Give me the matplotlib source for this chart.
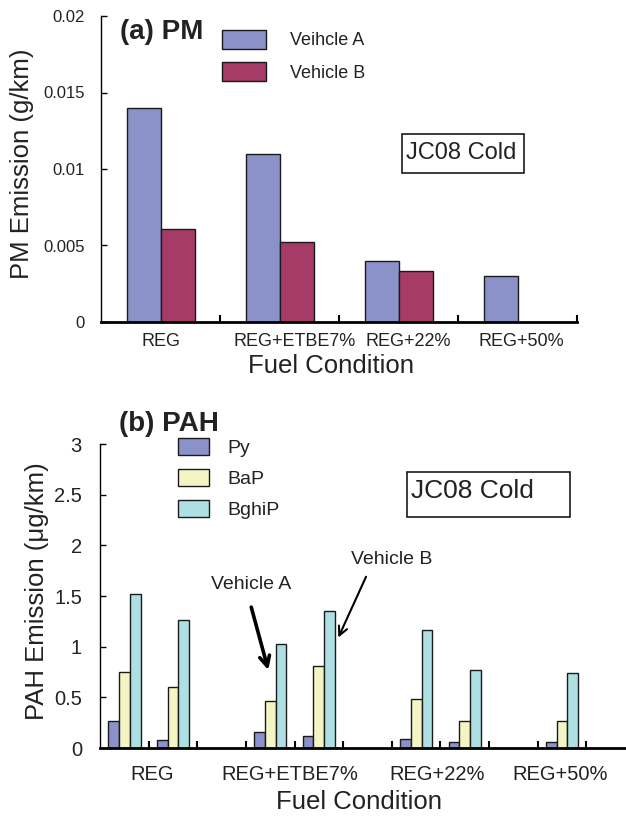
import numpy as np
import matplotlib
matplotlib.use("Agg")
import matplotlib.pyplot as plt
from matplotlib.patches import Rectangle
from matplotlib.ticker import FormatStrFormatter, FixedLocator
from matplotlib.transforms import ScaledTranslation

plt.rcParams["font.family"] = ["Liberation Sans", "DejaVu Sans"]

# ── data ─────────────────────────────────────────────────────────────────────
fuels = ["REG", "REG+ETBE7%", "REG+22%", "REG+50%"]

pm_vehicle_a = [0.014, 0.011, 0.004, 0.003]
pm_vehicle_b = [0.0061, 0.0052, 0.00335, np.nan]

py_a    = [0.27, 0.16, 0.09, 0.055]
py_b    = [0.08, 0.12, 0.055, np.nan]
bap_a   = [0.75, 0.46, 0.48, 0.27]
bap_b   = [0.60, 0.81, 0.27, np.nan]
bghip_a = [1.52, 1.03, 1.165, 0.74]
bghip_b = [1.26, 1.355, 0.77, np.nan]

C_A     = "#8B91C9"
C_B     = "#A63B68"
C_PY    = "#8B91C9"
C_BAP   = "#F4F5C4"
C_BGHIP = "#AEDFE3"
EDGE    = "#1a1a1a"
TXT     = "#222222"

W, H = 626, 819
fig = plt.figure(figsize=(W / 100, H / 100), dpi=100)


def fx(x, y):
    return x / W, 1 - y / H


def style_axis(ax, size, ypad):
    ax.spines["top"].set_visible(False)
    ax.spines["right"].set_visible(False)
    ax.spines["left"].set_linewidth(1.0)
    ax.spines["bottom"].set_linewidth(2.0)
    ax.yaxis.set_major_formatter(FormatStrFormatter("%g"))
    ax.tick_params(axis="y", direction="in", length=4, width=1, pad=ypad,
                   labelsize=size, labelcolor=TXT)
    ax.set_xticks([])
    ax.tick_params(axis="x", which="minor", direction="in", length=5, width=1.5)


def cat_labels(ax, xs, labels, size, shifts, drop):
    # category names under the axis, nudged sideways in pixels
    for xv, lab, dx in zip(xs, labels, shifts):
        tr = ax.get_xaxis_transform() + ScaledTranslation(dx / 100, -drop / 100,
                                                          fig.dpi_scale_trans)
        ax.text(xv, 0, lab, transform=tr, fontsize=size, color=TXT,
                ha="center", va="center")


def note_box(x0, y0, x1, y1, tx, ty, size):
    fig.patches.append(Rectangle(fx(x0, y1), (x1 - x0) / W, (y1 - y0) / H,
                                 transform=fig.transFigure, fill=False,
                                 edgecolor=EDGE, linewidth=1.2))
    fig.text(*fx(tx, ty), "JC08 Cold", fontsize=size, color=TXT,
             ha="left", va="center")


# ── (a) PM ───────────────────────────────────────────────────────────────────
ax1 = fig.add_axes([101 / W, 1 - 322 / H, 476 / W, 306 / H])
x = np.arange(len(fuels))
bw = 1 / 3.5
ax1.bar(x - bw / 2, pm_vehicle_a, width=bw, color=C_A, edgecolor=EDGE,
        linewidth=1, label="Veihcle A")
ax1.bar(x + bw / 2, pm_vehicle_b, width=bw, color=C_B, edgecolor=EDGE,
        linewidth=1, label="Vehicle B")
ax1.set_xlim(-0.5, 3.5)
ax1.set_ylim(0, 0.02)
ax1.set_yticks([0, 0.005, 0.01, 0.015, 0.02])
style_axis(ax1, 12, 11.5)
ax1.xaxis.set_minor_locator(FixedLocator(np.arange(0.5, 4, 1)))
cat_labels(ax1, x, fuels, 13, [0.5, 15.5, 9.5, 3.5], 20)
fig.text(*fx(331, 366), "Fuel Condition", fontsize=18.5, color=TXT,
         ha="center", va="center")
fig.text(*fx(22, 164), "PM Emission (g/km)", fontsize=18.5, color=TXT,
         ha="center", va="center", rotation=90)
ax1.legend(loc="upper left", bbox_to_anchor=fx(222, 30),
           bbox_transform=fig.transFigure, frameon=False, fontsize=13,
           handlelength=2.44, handleheight=1.22, labelspacing=0.72,
           handletextpad=1.33, borderpad=0, borderaxespad=0, labelcolor=TXT)
fig.text(*fx(120, 32), "(a) PM", fontsize=20, fontweight="bold", color=TXT,
         ha="left", va="center")
note_box(402, 134, 524, 173, 406, 153, 17)

# ── (b) PAH ──────────────────────────────────────────────────────────────────
ax2 = fig.add_axes([100 / W, 1 - 748 / H, 535 / W, 304 / H])
slots_a = 3 * np.arange(len(fuels))
slots_b = slots_a + 1
bw2 = 1 / 4.5
for slots, py, bap, bg in [(slots_a, py_a, bap_a, bghip_a),
                           (slots_b, py_b, bap_b, bghip_b)]:
    lab = slots is slots_a
    ax2.bar(slots - bw2, py, width=bw2, color=C_PY, edgecolor=EDGE,
            linewidth=1, label="Py" if lab else None)
    ax2.bar(slots, bap, width=bw2, color=C_BAP, edgecolor=EDGE,
            linewidth=1, label="BaP" if lab else None)
    ax2.bar(slots + bw2, bg, width=bw2, color=C_BGHIP, edgecolor=EDGE,
            linewidth=1, label="BghiP" if lab else None)
ax2.set_xlim(-0.5, 10.5)
ax2.set_ylim(0, 3)
ax2.set_yticks(np.arange(0, 3.01, 0.5))
style_axis(ax2, 14.5, 13)
ax2.xaxis.set_minor_locator(FixedLocator(np.arange(0.5, 11, 1)))
cat_labels(ax2, slots_a + 0.5, fuels, 14.5, [3.4, -4.4, -3.2, -26], 27)
fig.text(*fx(359, 802), "Fuel Condition", fontsize=18.5, color=TXT,
         ha="center", va="center")
fig.text(*fx(37, 591), "PAH Emission (\u03bcg/km)", fontsize=18.5, color=TXT,
         ha="center", va="center", rotation=90)
ax2.legend(loc="upper left", bbox_to_anchor=fx(178, 438),
           bbox_transform=fig.transFigure, frameon=False, fontsize=14,
           handlelength=1.6, handleheight=0.98, labelspacing=0.6,
           handletextpad=0.93, borderpad=0, borderaxespad=0, labelcolor=TXT)
fig.text(*fx(119, 424), "(b) PAH", fontsize=20, fontweight="bold", color=TXT,
         ha="left", va="center")
note_box(407, 472, 570, 517, 411, 491, 19)

# vehicle pointers
ax2.text(2.61, 1.61, "Vehicle A", fontsize=14, color=TXT, ha="center", va="center")
ax2.annotate("", xy=(2.96, 0.77), xytext=(2.61, 1.39),
             arrowprops=dict(arrowstyle="->", lw=2.6, color="black",
                             mutation_scale=18, shrinkA=0, shrinkB=0))
ax2.text(5.49, 1.86, "Vehicle B", fontsize=14, color=TXT, ha="center", va="center")
ax2.annotate("", xy=(4.40, 1.09), xytext=(4.97, 1.69),
             arrowprops=dict(arrowstyle="->", lw=1.5, color="black",
                             mutation_scale=16, shrinkA=0, shrinkB=0))

fig.savefig("out.png", dpi=100)
